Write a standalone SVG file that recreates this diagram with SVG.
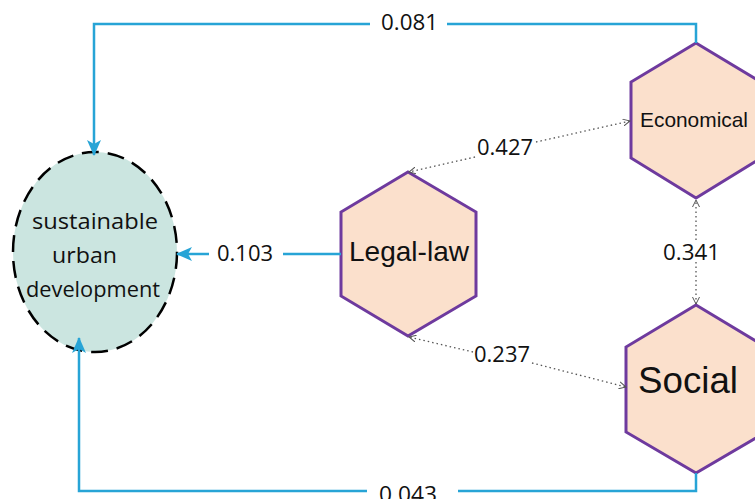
<svg xmlns="http://www.w3.org/2000/svg" width="755" height="499" viewBox="0 0 755 499">
<style>
.hex{fill:#FBE0CC;stroke:#6E3A9E;stroke-width:3;stroke-linejoin:miter}
.blue{fill:none;stroke:#27A4D6;stroke-width:2.5}
.dot{fill:none;stroke:#555;stroke-width:1.3;stroke-dasharray:1.5 3}
.lbl{font-family:"Open Sans",sans-serif;font-size:22px;fill:#111}
.hx{font-family:"Liberation Sans",Arial,sans-serif;fill:#111}
</style>
<defs>
<marker id="ba" markerUnits="userSpaceOnUse" markerWidth="16" markerHeight="14" refX="15" refY="7" orient="auto"><path d="M0,0 L16,7 L0,14 L4,7 Z" fill="#27A4D6"/></marker>
<marker id="ga" markerUnits="userSpaceOnUse" markerWidth="8" markerHeight="8" refX="7" refY="4" orient="auto-start-reverse"><path d="M0,0.5 L7,4 L0,7.5" fill="none" stroke="#555" stroke-width="1"/></marker>
</defs>
<g id="sud">
<ellipse cx="95" cy="252" rx="82" ry="100" fill="#CBE5E0" stroke="#000" stroke-width="2.5" stroke-dasharray="17 9"/>
<text class="lbl" x="32" y="229" font-size="25" textLength="126" lengthAdjust="spacingAndGlyphs">sustainable</text>
<text class="lbl" x="52" y="263" font-size="25" textLength="65" lengthAdjust="spacingAndGlyphs">urban</text>
<text class="lbl" x="26" y="297" font-size="25" textLength="134" lengthAdjust="spacingAndGlyphs">development</text>
</g>
<g id="legal">
<polygon class="hex" points="408,172 476,212 476,296 408,336 341,296 341,212"/>
<text class="hx" x="409" y="261" font-size="27.5" text-anchor="middle" textLength="120" lengthAdjust="spacingAndGlyphs">Legal-law</text>
</g>
<g id="economical">
<polygon class="hex" points="696,43 761,82 761,158 696,198 631,158 631,82"/>
<text class="hx" x="640" y="127" font-size="21" textLength="108" lengthAdjust="spacingAndGlyphs">Economical</text>
</g>
<g id="social">
<polygon class="hex" points="696,305 766,347 766,432 696,473 626,432 626,347"/>
<text class="hx" x="638" y="393" font-size="36" textLength="100" lengthAdjust="spacingAndGlyphs">Social</text>
</g>
<g id="connectors">
<path class="blue" d="M696,43 V24 H447"/>
<path class="blue" d="M370,24 H94 V155" marker-end="url(#ba)"/>
<path class="blue" d="M341,254 H283"/>
<path class="blue" d="M209,254 H177" marker-end="url(#ba)"/>
<path class="blue" d="M696,473 V491 H458"/>
<path class="blue" d="M367,491 H79 V338" marker-end="url(#ba)"/>
<path class="dot" d="M475,157 L409,172" marker-end="url(#ga)"/>
<path class="dot" d="M536,142 L630,121" marker-end="url(#ga)"/>
<path class="dot" d="M473,352 L409,337" marker-end="url(#ga)"/>
<path class="dot" d="M532,363 L626,387" marker-end="url(#ga)"/>
<path class="dot" d="M696,240 V200" marker-end="url(#ga)"/>
<path class="dot" d="M696,262 V304" marker-end="url(#ga)"/>
<text class="lbl" x="381" y="30" textLength="57" lengthAdjust="spacingAndGlyphs">0.081</text>
<text class="lbl" x="217" y="261" textLength="56" lengthAdjust="spacingAndGlyphs">0.103</text>
<text class="lbl" x="477" y="155" textLength="56" lengthAdjust="spacingAndGlyphs">0.427</text>
<text class="lbl" x="474" y="362" textLength="56" lengthAdjust="spacingAndGlyphs">0.237</text>
<text class="lbl" x="663" y="260" textLength="57" lengthAdjust="spacingAndGlyphs">0.341</text>
<text class="lbl" x="379" y="502" textLength="58" lengthAdjust="spacingAndGlyphs">0.043</text>
</g>
</svg>
